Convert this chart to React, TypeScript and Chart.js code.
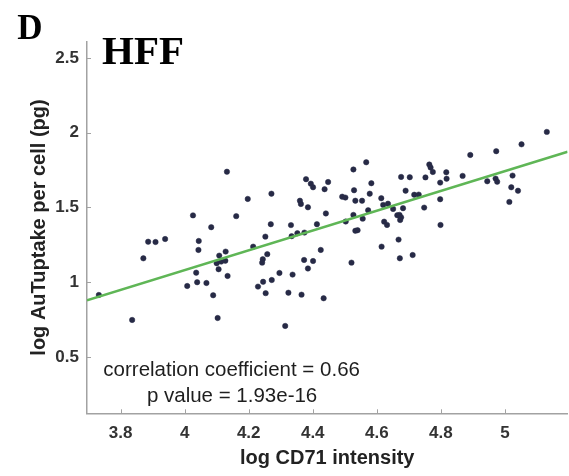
import React, { useEffect, useRef } from "react";
import { Chart, registerables } from "chart.js";

Chart.register(...registerables);

// log CD71 intensity (x) per cell
const cd71 = [
  3.732, 3.836, 3.871, 3.886, 3.909, 3.939, 4.008, 4.026, 4.036, 4.039,
  4.044, 4.043, 4.068, 4.083, 4.089, 4.103, 4.108, 4.128, 4.100, 4.114,
  4.127, 4.106, 4.134, 4.132, 4.161, 4.197, 4.214, 4.229, 4.244, 4.242,
  4.258, 4.245, 4.253, 4.252, 4.269, 4.271, 4.272, 4.296, 4.314, 4.324,
  4.332, 4.334, 4.337, 4.352, 4.374, 4.360, 4.363, 4.365, 4.373, 4.385,
  4.401, 4.379, 4.394, 4.401, 4.385, 4.413, 4.425, 4.434, 4.437, 4.448,
  4.441, 4.492, 4.502, 4.503, 4.521, 4.527, 4.527, 4.529, 4.533, 4.554,
  4.533, 4.540, 4.556, 4.567, 4.573, 4.578, 4.583, 4.614, 4.615, 4.620,
  4.635, 4.623, 4.632, 4.651, 4.664, 4.671, 4.676, 4.673, 4.668, 4.672,
  4.676, 4.682, 4.690, 4.703, 4.712, 4.717, 4.731, 4.748, 4.752, 4.764,
  4.768, 4.775, 4.798, 4.798, 4.799, 4.817, 4.818, 4.868, 4.892, 4.945,
  4.971, 4.976, 4.973, 5.014, 5.020, 5.024, 5.041, 5.052, 5.131,
];

// log AuTuptake per cell (pg) (y)
const auUptake = [
  0.915, 0.748, 1.160, 1.271, 1.269, 1.289, 0.975, 1.447, 1.064, 1.000,
  1.276, 1.216, 0.995, 1.368, 0.913, 0.761, 1.178, 1.205, 1.127, 1.138,
  1.144, 1.087, 1.042, 1.739, 1.442, 1.557, 1.238, 0.971, 1.154, 1.131,
  1.188, 1.003, 0.927, 1.305, 1.388, 1.592, 1.015, 1.062, 0.708, 0.930,
  1.382, 1.308, 1.051, 1.328, 1.332, 1.545, 1.523, 0.917, 1.149, 1.092,
  1.142, 1.689, 1.659, 1.635, 1.501, 1.388, 1.216, 0.893, 1.622, 1.670,
  1.460, 1.572, 1.566, 1.406, 1.131, 1.754, 1.450, 1.615, 1.545, 1.545,
  1.344, 1.348, 1.425, 1.802, 1.481, 1.592, 1.662, 1.562, 1.238, 1.517,
  1.525, 1.405, 1.383, 1.490, 1.448, 1.450, 1.434, 1.416, 1.285, 1.160,
  1.704, 1.495, 1.612, 1.702, 1.182, 1.585, 1.586, 1.499, 1.701, 1.787,
  1.767, 1.737, 1.666, 1.555, 1.383, 1.735, 1.692, 1.711, 1.851, 1.675,
  1.693, 1.672, 1.876, 1.537, 1.635, 1.713, 1.612, 1.922, 2.005,
];

// least-squares line end points
const fitX = [3.695, 5.196];
const fitY = [0.879, 1.872];

const xTicks = [3.8, 4, 4.2, 4.4, 4.6, 4.8, 5];
const xTickLabels = ["3.8", "4", "4.2", "4.4", "4.6", "4.8", "5"];
const yTicks = [0.5, 1, 1.5, 2, 2.5];
const yTickLabels = ["0.5", "1", "1.5", "2", "2.5"];
const xRange = [3.695, 5.1956];
const yRange = [0.124, 2.608];

const panelLetter = "D";
const panelTitle = "HFF";
const xTitle = "log CD71 intensity";
const yTitle = "log AuTuptake per cell (pg)";
const statLines = ["correlation coefficient = 0.66", "p value = 1.93e-16"];
const statX = [3.746, 3.882];
const statY = [0.409, 0.235];

const AXIS_COLOR = "#a2a2a2";
const TEXT_COLOR = "#333333";

const overlayPlugin = {
  id: "overlay",
  afterDraw(chart: any) {
    const { ctx, chartArea, scales } = chart;
    const x = scales.x;
    const y = scales.y;
    ctx.save();
    // inward tick marks
    ctx.strokeStyle = AXIS_COLOR;
    ctx.lineWidth = 1;
    xTicks.forEach((v) => {
      const px = Math.round(x.getPixelForValue(v)) + 0.5;
      ctx.beginPath();
      ctx.moveTo(px, chartArea.bottom);
      ctx.lineTo(px, chartArea.bottom - 4);
      ctx.stroke();
    });
    yTicks.forEach((v) => {
      const py = Math.round(y.getPixelForValue(v)) + 0.5;
      ctx.beginPath();
      ctx.moveTo(chartArea.left, py);
      ctx.lineTo(chartArea.left + 4, py);
      ctx.stroke();
    });
    // statistics text
    ctx.fillStyle = "#1e1e1e";
    ctx.font = '20.5px "Liberation Sans", Arial, sans-serif';
    ctx.textAlign = "left";
    ctx.textBaseline = "middle";
    statLines.forEach((t, i) => {
      ctx.fillText(t, x.getPixelForValue(statX[i]), y.getPixelForValue(statY[i]));
    });
    // panel title and letter
    ctx.fillStyle = "#000000";
    ctx.textAlign = "center";
    ctx.textBaseline = "alphabetic";
    ctx.font = 'bold 41px "Liberation Serif", "Times New Roman", serif';
    ctx.fillText(panelTitle, 143, 63.5);
    ctx.font = 'bold 35px "Liberation Serif", "Times New Roman", serif';
    ctx.fillText(panelLetter, 30, 38.5);
    ctx.restore();
  },
};

export default function App() {
  const canvasRef = useRef<HTMLCanvasElement | null>(null);

  useEffect(() => {
    const canvas = canvasRef.current;
    if (!canvas) return;
    Chart.defaults.font.family = '"Liberation Sans", Arial, sans-serif';
    const points = cd71.map((v, i) => ({ x: v, y: auUptake[i] }));
    const fitLine = fitX.map((v, i) => ({ x: v, y: fitY[i] }));
    const chart = new Chart(canvas, {
      type: "scatter",
      data: {
        datasets: [
          {
            type: "line",
            data: fitLine,
            borderColor: "#5fb656",
            borderWidth: 2.5,
            pointRadius: 0,
            fill: false,
          } as any,
          {
            type: "scatter",
            data: points,
            pointRadius: 2.7,
            backgroundColor: "#272a46",
            borderColor: "#272a46",
            borderWidth: 0.5,
          } as any,
        ],
      },
      options: {
        animation: false,
        responsive: false,
        devicePixelRatio: 1,
        layout: { padding: { top: 41.7, left: 0, right: 0, bottom: 0 } },
        plugins: {
          legend: { display: false },
          tooltip: { enabled: false },
        },
        scales: {
          x: {
            type: "linear",
            min: xRange[0],
            max: xRange[1],
            afterBuildTicks: (scale: any) => {
              scale.ticks = xTicks.map((v) => ({ value: v }));
            },
            afterFit: (scale: any) => {
              scale.height = 62.7;
            },
            grid: { display: true, drawOnChartArea: false, drawTicks: false },
            border: { display: true, color: AXIS_COLOR, width: 1.5 },
            ticks: {
              autoSkip: false,
              maxRotation: 0,
              padding: 9.5,
              color: TEXT_COLOR,
              font: { size: 17, weight: "bold" },
              callback: (value: any) => {
                const i = xTicks.findIndex((t) => Math.abs(t - Number(value)) < 1e-6);
                return i >= 0 ? xTickLabels[i] : "";
              },
            },
            title: {
              display: true,
              text: xTitle,
              color: "#222222",
              font: { size: 20, weight: "bold" },
              padding: { top: 0, bottom: 6 },
            },
          },
          y: {
            type: "linear",
            min: yRange[0],
            max: yRange[1],
            afterBuildTicks: (scale: any) => {
              scale.ticks = yTicks.map((v) => ({ value: v }));
            },
            afterFit: (scale: any) => {
              scale.width = 87;
            },
            grid: { display: true, drawOnChartArea: false, drawTicks: false },
            border: { display: true, color: AXIS_COLOR, width: 1.5 },
            ticks: {
              autoSkip: false,
              padding: 8,
              color: TEXT_COLOR,
              font: { size: 17, weight: "bold" },
              callback: (value: any) => {
                const i = yTicks.findIndex((t) => Math.abs(t - Number(value)) < 1e-6);
                return i >= 0 ? yTickLabels[i] : "";
              },
            },
            title: {
              display: true,
              text: yTitle,
              color: "#222222",
              font: { size: 20, weight: "bold" },
              padding: { top: 27, bottom: 0 },
            },
          },
        },
      },
      plugins: [overlayPlugin],
    } as any);
    return () => chart.destroy();
  }, []);

  return (
    <div
      style={{
        position: "fixed",
        left: 0,
        top: 0,
        width: 569,
        height: 476,
        overflow: "hidden",
        background: "#ffffff",
      }}
    >
      <canvas
        ref={canvasRef}
        width={572}
        height={476}
        style={{ display: "block", width: 572, height: 476 }}
      />
    </div>
  );
}
